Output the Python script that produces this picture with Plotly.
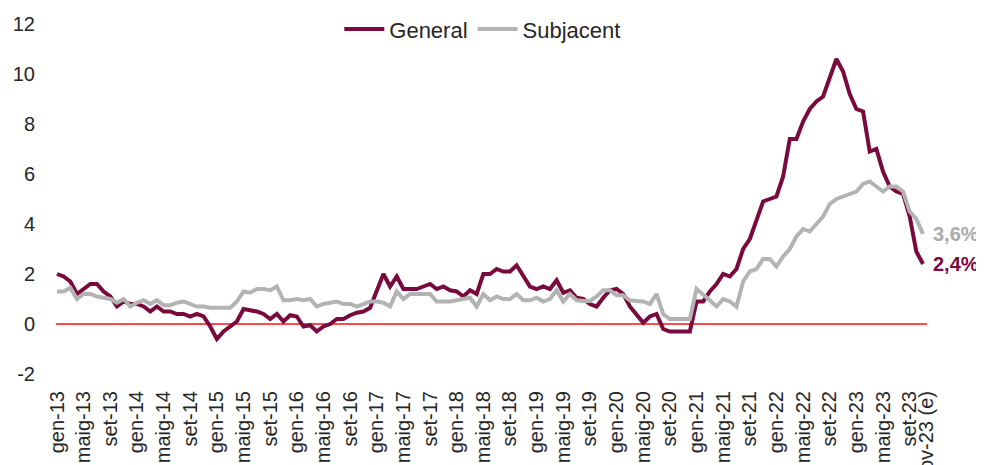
import plotly.graph_objects as go

# Monthly data Jan 2013 .. Nov 2023 (estimate)
months = list(range(131))

general = [
    # 2013
    2.0, 1.9, 1.7, 1.2, 1.4, 1.6, 1.6, 1.3, 1.1, 0.7, 0.9, 0.8,
    # 2014
    0.8, 0.7, 0.5, 0.7, 0.5, 0.5, 0.4, 0.4, 0.3, 0.4, 0.3, -0.1,
    # 2015
    -0.6, -0.3, -0.1, 0.1, 0.6, 0.55, 0.5, 0.4, 0.2, 0.4, 0.1, 0.35,
    # 2016
    0.3, -0.1, -0.05, -0.3, -0.1, 0.0, 0.2, 0.2, 0.35, 0.45, 0.5, 0.65,
    # 2017
    1.3, 2.0, 1.5, 1.9, 1.4, 1.4, 1.4, 1.5, 1.6, 1.4, 1.5, 1.35,
    # 2018
    1.3, 1.1, 1.35, 1.2, 2.0, 2.0, 2.2, 2.1, 2.1, 2.35, 1.95, 1.5,
    # 2019
    1.4, 1.5, 1.4, 1.75, 1.25, 1.35, 1.05, 1.0, 0.8, 0.7, 1.05, 1.35,
    # 2020
    1.4, 1.2, 0.7, 0.35, 0.05, 0.3, 0.4, -0.2, -0.3, -0.3, -0.3, -0.3,
    # 2021
    0.9, 0.9, 1.3, 1.6, 2.0, 1.9, 2.2, 3.0, 3.4, 4.1, 4.9, 5.0,
    # 2022
    5.1, 5.9, 7.4, 7.4, 8.1, 8.6, 8.9, 9.1, 9.9, 10.6, 10.1, 9.2,
    # 2023
    8.6, 8.5, 6.9, 7.0, 6.1, 5.5, 5.3, 5.2, 4.3, 2.9, 2.4,
]

subjacent = [
    # 2013
    1.3, 1.3, 1.45, 1.0, 1.2, 1.2, 1.1, 1.05, 1.0, 0.85, 1.0, 0.7,
    # 2014
    0.85, 0.95, 0.8, 0.95, 0.75, 0.75, 0.85, 0.9, 0.8, 0.7, 0.7, 0.65,
    # 2015
    0.65, 0.65, 0.65, 0.9, 1.3, 1.25, 1.4, 1.4, 1.35, 1.5, 0.95, 0.95,
    # 2016
    1.0, 0.95, 1.0, 0.7, 0.8, 0.85, 0.9, 0.8, 0.8, 0.7, 0.8, 0.9,
    # 2017
    0.9, 0.85, 0.7, 1.3, 1.0, 1.2, 1.2, 1.2, 1.2, 0.9, 0.9, 0.9,
    # 2018
    0.95, 1.0, 1.05, 0.7, 1.2, 0.95, 1.1, 1.0, 1.0, 1.2, 0.95, 0.95,
    # 2019
    1.05, 0.9, 1.0, 1.35, 0.9, 1.2, 0.95, 0.92, 0.92, 1.1, 1.35, 1.35,
    # 2020
    1.15, 1.15, 0.95, 0.92, 0.9, 0.8, 1.2, 0.4, 0.2, 0.2, 0.2, 0.2,
    # 2021
    1.4, 1.2, 0.95, 0.7, 1.0, 0.9, 0.7, 1.7, 2.1, 2.2, 2.6, 2.6,
    # 2022
    2.3, 2.7, 3.0, 3.5, 3.8, 3.7, 4.0, 4.3, 4.8, 5.0, 5.1, 5.2,
    # 2023
    5.3, 5.6, 5.7, 5.5, 5.3, 5.5, 5.5, 5.3, 4.5, 4.2, 3.6,
]

tick_positions = list(range(0, 129, 4)) + [130.5]
tick_labels = []
for yr in range(13, 24):
    tick_labels += [f"gen-{yr}", f"maig-{yr}", f"set-{yr}"]
tick_labels.append("nov-23 (e)")

y_ticks = [-2, 0, 2, 4, 6, 8, 10, 12]

PURPLE = "#7A0A3D"
GRAY = "#B3B3B3"
FONT = "Liberation Sans, Arial, Helvetica, sans-serif"
TXT = "#262626"

fig = go.Figure()
fig.add_trace(go.Scatter(x=months, y=general, mode="lines", name="General",
                         line=dict(color=PURPLE, width=4)))
fig.add_trace(go.Scatter(x=months, y=subjacent, mode="lines", name="Subjacent",
                         line=dict(color=GRAY, width=4)))

fig.add_annotation(x=months[-1], y=subjacent[-1], text="<b>3,6%</b>",
                   xanchor="left", yanchor="middle", xshift=8, showarrow=False,
                   font=dict(family=FONT, size=20, color="#ABABAB"))
fig.add_annotation(x=months[-1], y=general[-1], text="<b>2,4%</b>",
                   xanchor="left", yanchor="middle", xshift=8, showarrow=False,
                   font=dict(family=FONT, size=20, color=PURPLE))

# page body adds an 8px margin, so the figure is sized to fill the rest of the window
fig.update_layout(
    width=976, height=457,
    margin=dict(l=48, r=57, t=16, b=91, autoexpand=False),
    paper_bgcolor="white", plot_bgcolor="white",
    font=dict(family=FONT, color=TXT),
    showlegend=True,
    legend=dict(orientation="h", x=0.49, xanchor="center", y=0.985, yanchor="middle",
                font=dict(family=FONT, size=22, color=TXT),
                bgcolor="rgba(0,0,0,0)", itemwidth=40),
    xaxis=dict(range=[-0.15, 130.6], tickmode="array", tickvals=tick_positions,
               ticktext=tick_labels, tickangle=-90, showgrid=False, showline=False,
               zeroline=False, ticks="", ticklabelstandoff=12, automargin=False,
               tickfont=dict(family=FONT, size=20, color=TXT)),
    yaxis=dict(range=[-2, 12], tickmode="array", tickvals=y_ticks,
               ticktext=[str(v) for v in y_ticks], showgrid=False, showline=False,
               zeroline=True, zerolinecolor="#FF4B4B", zerolinewidth=1.5,
               ticks="", ticklabelstandoff=20, automargin=False,
               tickfont=dict(family=FONT, size=20, color=TXT)),
)

fig.write_html("out.html")
